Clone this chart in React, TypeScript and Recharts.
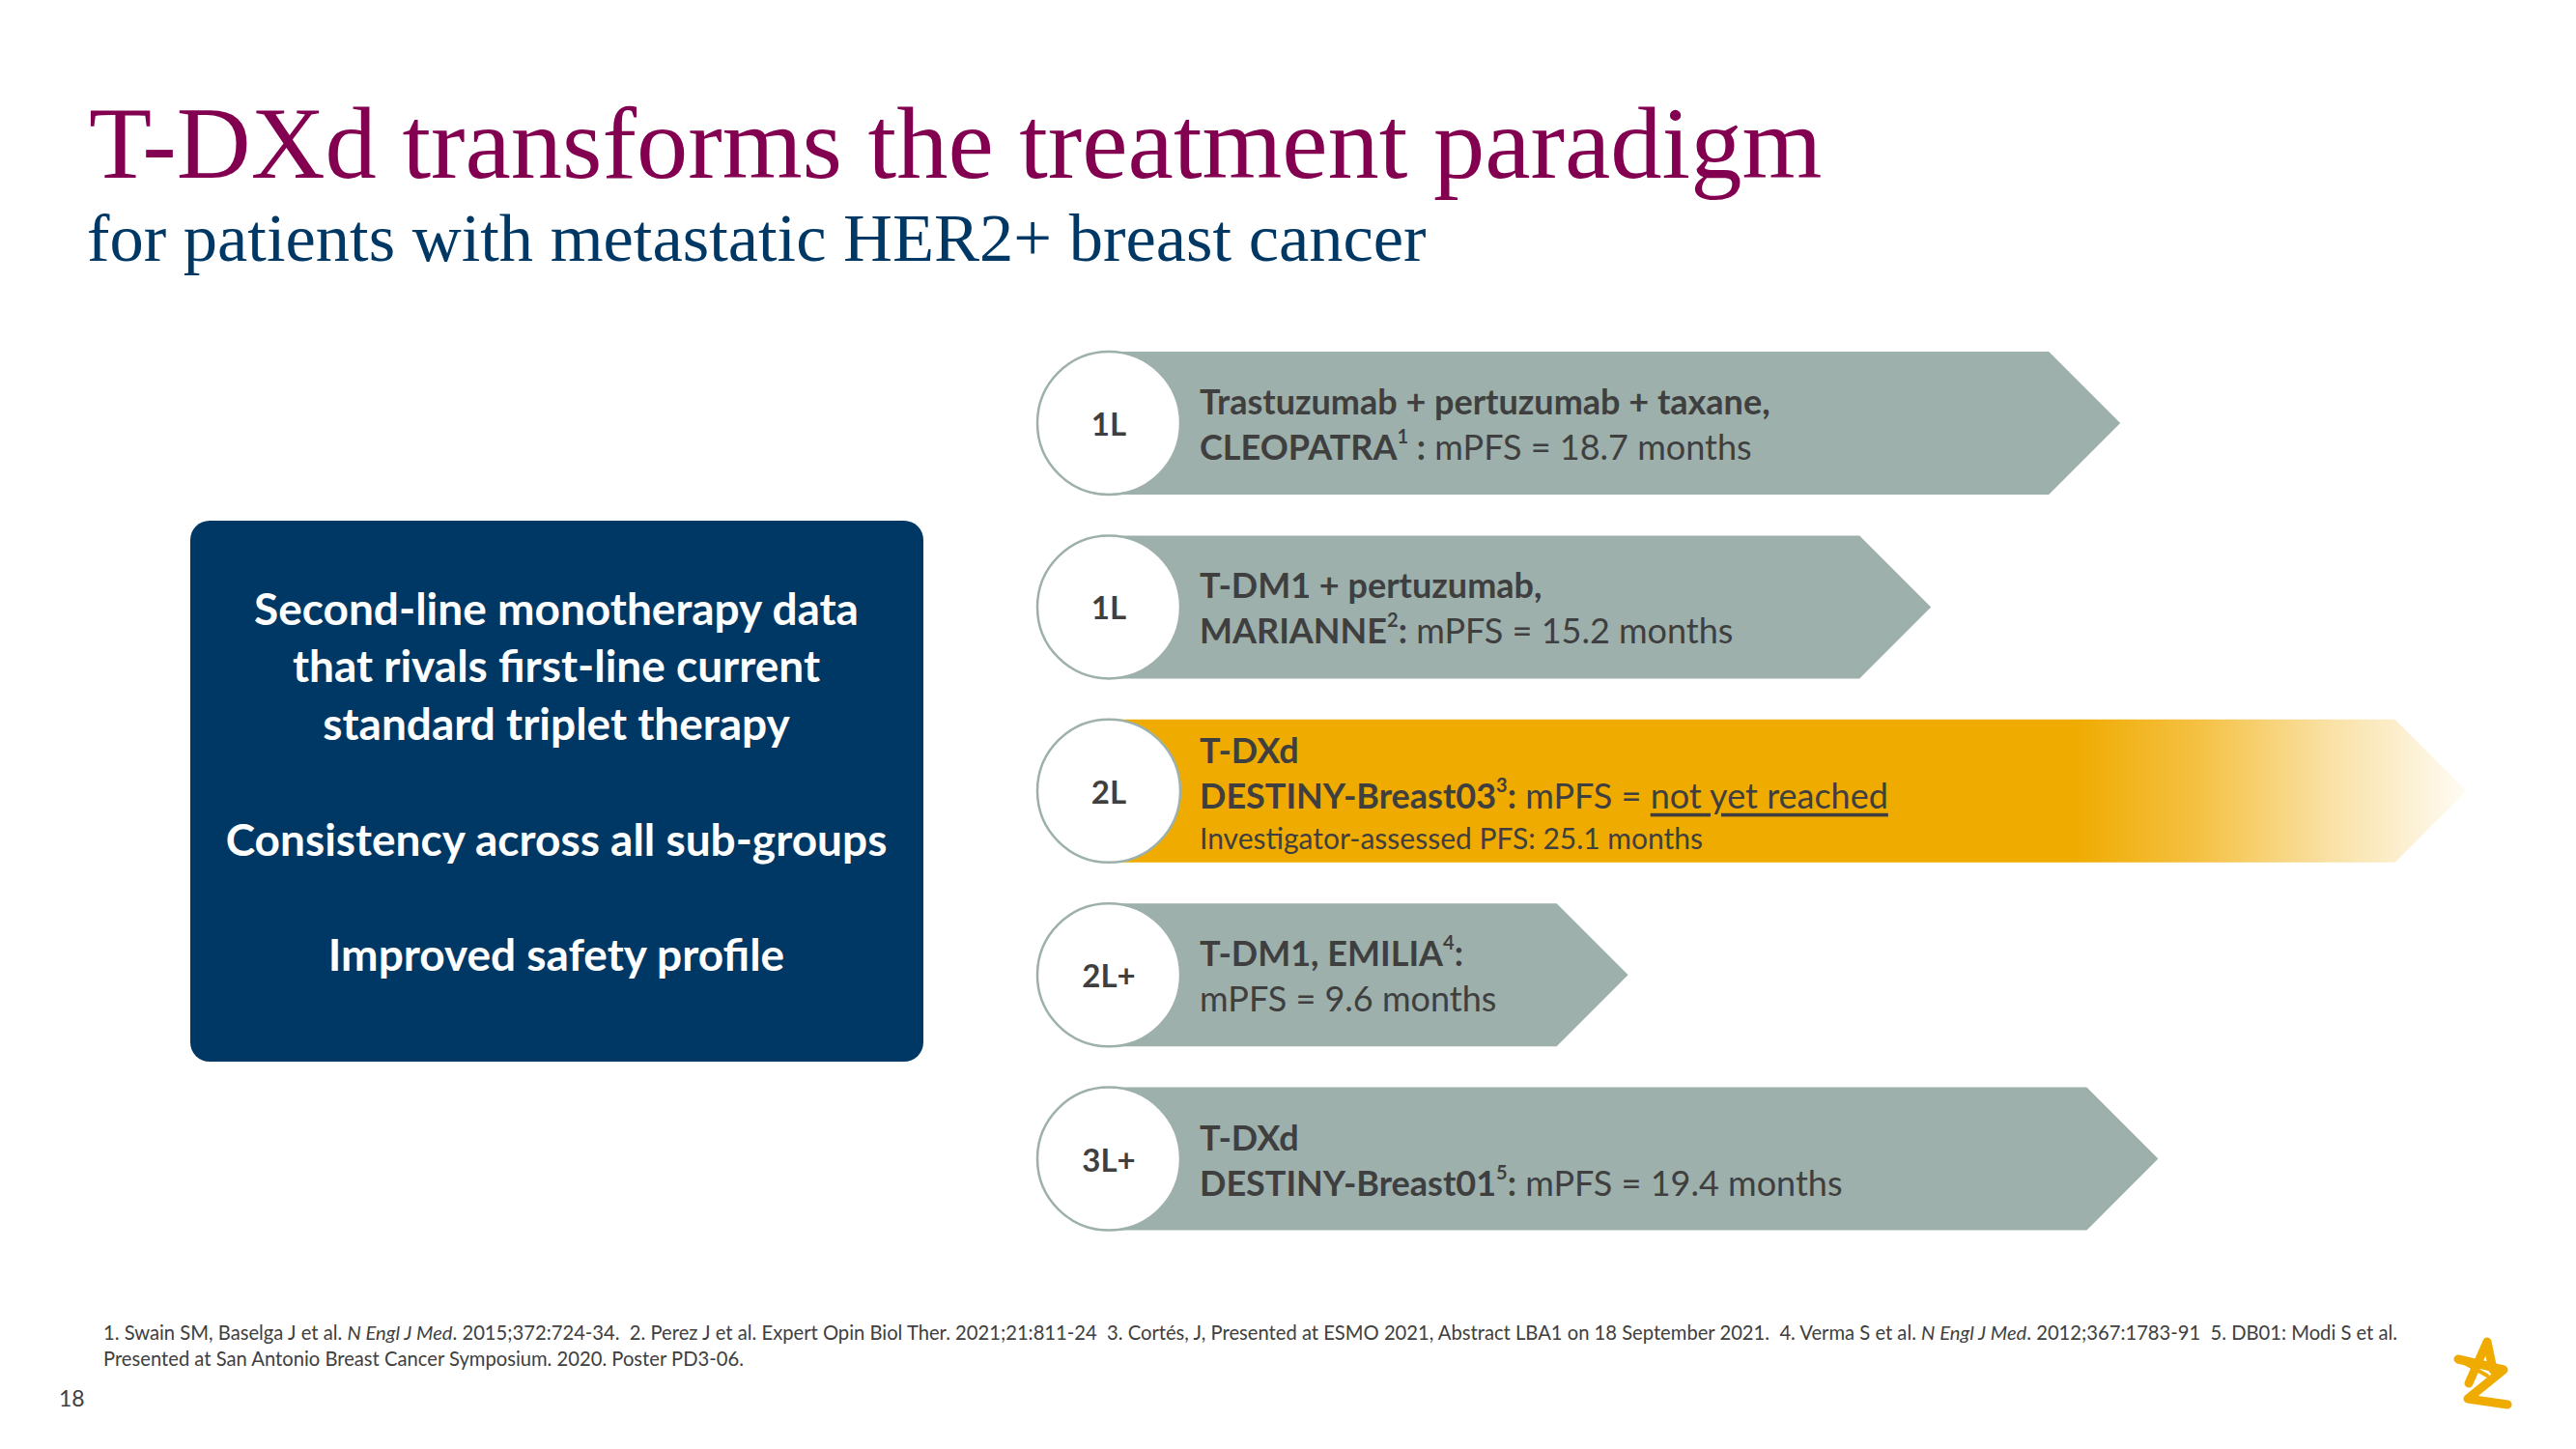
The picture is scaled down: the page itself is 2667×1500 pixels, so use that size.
import { BarChart, Bar, XAxis, YAxis } from "recharts"

// treatment line per row and median PFS (months) that sets the arrow length
const lines = ["1L", "1L", "2L", "2L+", "3L+"]
const mpfs = [18.7, 15.2, 25.1, 9.6, 19.4]
const highlight = [false, false, true, false, false]

type Seg = { t: string; b?: boolean; sup?: boolean; u?: boolean }
type Line = { segs: Seg[]; small?: boolean }

const rowText: Line[][] = [
  [
    { segs: [{ t: "Trastuzumab + pertuzumab + taxane,", b: true }] },
    { segs: [{ t: "CLEOPATRA", b: true }, { t: "1", b: true, sup: true }, { t: " :", b: true }, { t: " mPFS = 18.7 months" }] },
  ],
  [
    { segs: [{ t: "T-DM1 + pertuzumab,", b: true }] },
    { segs: [{ t: "MARIANNE", b: true }, { t: "2", b: true, sup: true }, { t: ":", b: true }, { t: " mPFS = 15.2 months" }] },
  ],
  [
    { segs: [{ t: "T-DXd", b: true }] },
    { segs: [{ t: "DESTINY-Breast03", b: true }, { t: "3", b: true, sup: true }, { t: ":", b: true }, { t: " mPFS = " }, { t: "not yet reached", u: true }] },
    { segs: [{ t: "Investigator-assessed PFS: 25.1 months" }], small: true },
  ],
  [
    { segs: [{ t: "T-DM1, EMILIA", b: true }, { t: "4", b: true, sup: true }, { t: ":", b: true }] },
    { segs: [{ t: "mPFS = 9.6 months" }] },
  ],
  [
    { segs: [{ t: "T-DXd", b: true }] },
    { segs: [{ t: "DESTINY-Breast01", b: true }, { t: "5", b: true, sup: true }, { t: ":", b: true }, { t: " mPFS = 19.4 months" }] },
  ],
]

const boxLines = [
  "Second-line monotherapy data",
  "that rivals first-line current",
  "standard triplet therapy",
  "",
  "Consistency across all sub-groups",
  "",
  "Improved safety profile",
]

const data = lines.map((line, i) => ({ key: `${line}-${i}`, line, mpfs: mpfs[i] }))

const GREY = "#9DB0AC"
const GOLD = "#F0AB00"
const TEXT = "#3F3F3F"
const FONT = "Lato, 'Open Sans', sans-serif"

function RowLabel({ x, cy, rows }: { x: number; cy: number; rows: Line[] }) {
  const offsets = rows.length === 3 ? [-43, 4, 48] : [-23, 24]
  return (
    <g>
      {rows.map((ln, li) => {
        const size = ln.small ? 30 : 36
        let shift = 0
        return (
          <text
            key={li}
            x={x}
            y={cy + offsets[li]}
            dominantBaseline="central"
            fontFamily={FONT}
            fontSize={size}
            fill={TEXT}
            style={{ whiteSpace: "pre" }}
          >
            {ln.segs.map((s, si) => {
              let dy = 0
              if (s.sup && shift === 0) {
                dy = -11
                shift = -11
              } else if (!s.sup && shift !== 0) {
                dy = 11
                shift = 0
              }
              return (
                <tspan
                  key={si}
                  dy={dy}
                  fontWeight={s.b ? 700 : 400}
                  fontSize={s.sup ? 20 : size}
                  textDecoration={s.u ? "underline" : undefined}
                >
                  {s.t}
                </tspan>
              )
            })}
          </text>
        )
      })}
    </g>
  )
}

function ArrowShape(props: any) {
  const { x, y, width, height, index } = props
  const h = height
  const tip = h / 2
  const cy = y + h / 2
  const end = x + width
  const pts = `${x},${y} ${end - tip},${y} ${end},${cy} ${end - tip},${y + h} ${x},${y + h}`
  const gid = `fade-${index}`
  return (
    <g>
      {highlight[index] && (
        <defs>
          <linearGradient id={gid} x1="0" y1="0" x2="1" y2="0">
            <stop offset="0" stopColor={GOLD} stopOpacity={1} />
            <stop offset="0.71" stopColor={GOLD} stopOpacity={1} />
            <stop offset="0.8" stopColor={GOLD} stopOpacity={0.75} />
            <stop offset="0.9" stopColor={GOLD} stopOpacity={0.35} />
            <stop offset="1" stopColor={GOLD} stopOpacity={0.04} />
          </linearGradient>
        </defs>
      )}
      <polygon points={pts} fill={highlight[index] ? `url(#${gid})` : GREY} />
      <circle cx={x} cy={cy} r={h / 2} fill="#fff" stroke={GREY} strokeWidth={2.5} />
      <text
        x={x}
        y={cy}
        textAnchor="middle"
        dominantBaseline="central"
        fontFamily={FONT}
        fontWeight={700}
        fontSize={33}
        fill={TEXT}
      >
        {lines[index]}
      </text>
      <RowLabel x={x + 94} cy={cy} rows={rowText[index]} />
    </g>
  )
}

export default function App() {
  return (
    <div style={{ position: "relative", width: 2667, height: 1500, background: "#fff", overflow: "hidden" }}>
      <style>{"body{margin:0}"}</style>
      <div style={{ position: "absolute", left: 0, top: 0 }}>
        <BarChart
          width={2667}
          height={1500}
          data={data}
          layout="vertical"
          margin={{ top: 343, right: 63, bottom: 205, left: 1148 }}
        >
          <XAxis type="number" domain={[0, 26]} hide />
          <YAxis type="category" dataKey="key" hide />
          <Bar dataKey="mpfs" barSize={148} shape={ArrowShape} isAnimationActive={false} />
        </BarChart>
      </div>
      <svg
        width={2667}
        height={1500}
        style={{ position: "absolute", left: 0, top: 0, pointerEvents: "none" }}
      >
        <text x={92} y={184} fontFamily="'Liberation Serif', serif" fontSize={106.5} fill="#830051">
          T-DXd transforms the treatment paradigm
        </text>
        <text x={90} y={270} fontFamily="'Liberation Serif', serif" fontSize={70.5} fill="#003865">
          for patients with metastatic HER2+ breast cancer
        </text>

        <rect x={197} y={539} width={759} height={560} rx={20} fill="#003865" />
        {boxLines.map((t, i) =>
          t ? (
            <text
              key={i}
              x={576}
              y={629 + i * 59.8}
              textAnchor="middle"
              dominantBaseline="central"
              fontFamily={FONT}
              fontWeight={700}
              fontSize={46}
              fill="#fff"
            >
              {t}
            </text>
          ) : null
        )}

        <text x={107} y={1387} fontFamily={FONT} fontSize={20.2} fill="#404040" style={{ whiteSpace: "pre" }}>
          <tspan>1. Swain SM, Baselga J et al. </tspan>
          <tspan fontStyle="italic">N Engl J Med</tspan>
          <tspan>. 2015;372:724-34.  2. Perez J et al. Expert Opin Biol Ther. 2021;21:811-24  3. Cortés, J, Presented at ESMO 2021, Abstract LBA1 on 18 September 2021.  4. Verma S et al. </tspan>
          <tspan fontStyle="italic">N Engl J Med</tspan>
          <tspan>. 2012;367:1783-91  5. DB01: Modi S et al.</tspan>
        </text>
        <text x={107} y={1414} fontFamily={FONT} fontSize={20.2} fill="#404040">
          Presented at San Antonio Breast Cancer Symposium. 2020. Poster PD3-06.
        </text>
        <text x={61} y={1456} fontFamily={FONT} fontSize={23} fill="#404040">
          18
        </text>

        <g fill="none" stroke={GOLD} strokeWidth={9} strokeLinejoin="round" strokeLinecap="round">
          <path d="M2556,1432 L2575,1389 L2581,1418" />
          <path d="M2545,1407 L2592,1418 L2555,1448 L2596,1454" />
          <path d="M2548,1409 L2575,1424" strokeWidth={4} />
        </g>
      </svg>
    </div>
  )
}
